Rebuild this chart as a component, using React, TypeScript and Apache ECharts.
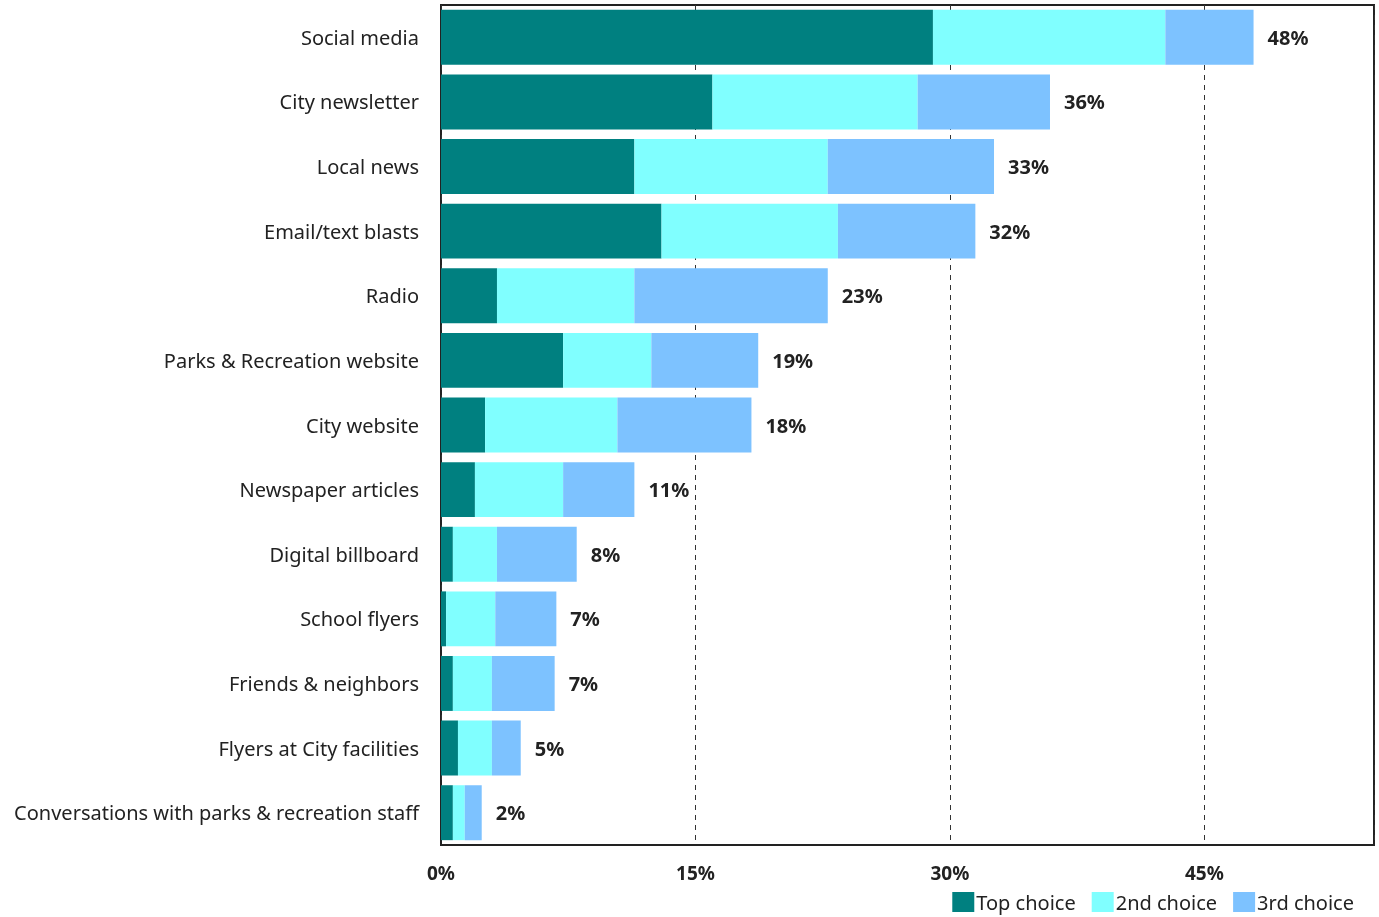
import React, { useEffect, useRef } from "react";
import * as echarts from "echarts";

const categories = [
  "Social media",
  "City newsletter",
  "Local news",
  "Email/text blasts",
  "Radio",
  "Parks & Recreation website",
  "City website",
  "Newspaper articles",
  "Digital billboard",
  "School flyers",
  "Friends & neighbors",
  "Flyers at City facilities",
  "Conversations with parks & recreation staff",
];
const topChoice = [29.0, 16.0, 11.4, 13.0, 3.3, 7.2, 2.6, 2.0, 0.7, 0.3, 0.7, 1.0, 0.7];
const secondChoice = [13.7, 12.1, 11.4, 10.4, 8.1, 5.2, 7.8, 5.2, 2.6, 2.9, 2.3, 2.0, 0.7];
const thirdChoice = [5.2, 7.8, 9.8, 8.1, 11.4, 6.3, 7.9, 4.2, 4.7, 3.6, 3.7, 1.7, 1.0];
const totalLabels = ["48%", "36%", "33%", "32%", "23%", "19%", "18%", "11%", "8%", "7%", "7%", "5%", "2%"];
const seriesNames = ["Top choice", "2nd choice", "3rd choice"];
const colors = ["#008080", "#80FFFF", "#7DC2FF"];

const FONT = "'Noto Sans', sans-serif";

export default function App() {
  const ref = useRef<HTMLDivElement>(null);
  useEffect(() => {
    if (!ref.current) return;
    const chart = echarts.init(ref.current, undefined, { renderer: "svg" });
    const data = [topChoice, secondChoice, thirdChoice];
    chart.setOption({
      animation: false,
      color: colors,
      textStyle: { fontFamily: FONT },
      grid: {
        left: 441,
        right: 5,
        top: 5,
        bottom: 72,
        show: true,
        borderColor: "#222",
        borderWidth: 2,
        backgroundColor: "transparent",
      },
      legend: {
        right: 20,
        bottom: 0,
        itemWidth: 22,
        itemHeight: 20,
        itemGap: 16,
        icon: "rect",
        textStyle: { fontSize: 20, color: "#222", fontFamily: FONT, padding: [0, 0, 0, -3] },
        data: seriesNames,
      },
      xAxis: {
        type: "value",
        min: 0,
        max: 55,
        interval: 15,
        axisLine: { show: false },
        axisTick: { show: false },
        axisLabel: {
          formatter: "{value}%",
          fontSize: 19,
          fontWeight: "bold",
          color: "#222",
          margin: 18,
          showMaxLabel: false,
        },
        splitLine: { show: true, lineStyle: { color: "#333", type: [5, 5], width: 1 } },
      },
      yAxis: {
        type: "category",
        data: categories,
        inverse: true,
        axisLine: { show: false },
        axisTick: { show: false },
        axisLabel: { fontSize: 20, color: "#222", margin: 22 },
      },
      series: data.map((d, i) => ({
        name: seriesNames[i],
        type: "bar",
        stack: "total",
        data: d,
        barCategoryGap: "15%",
        itemStyle: { color: colors[i] },
        label:
          i === 2
            ? {
                show: true,
                position: "right",
                distance: 14,
                fontSize: 20,
                fontWeight: "bold",
                color: "#222",
                formatter: (p: any) => totalLabels[p.dataIndex],
              }
            : { show: false },
      })),
    });
    return () => chart.dispose();
  }, []);
  return (
    <div
      ref={ref}
      style={{ position: "fixed", left: 0, top: 0, width: 1379, height: 917 }}
    />
  );
}
